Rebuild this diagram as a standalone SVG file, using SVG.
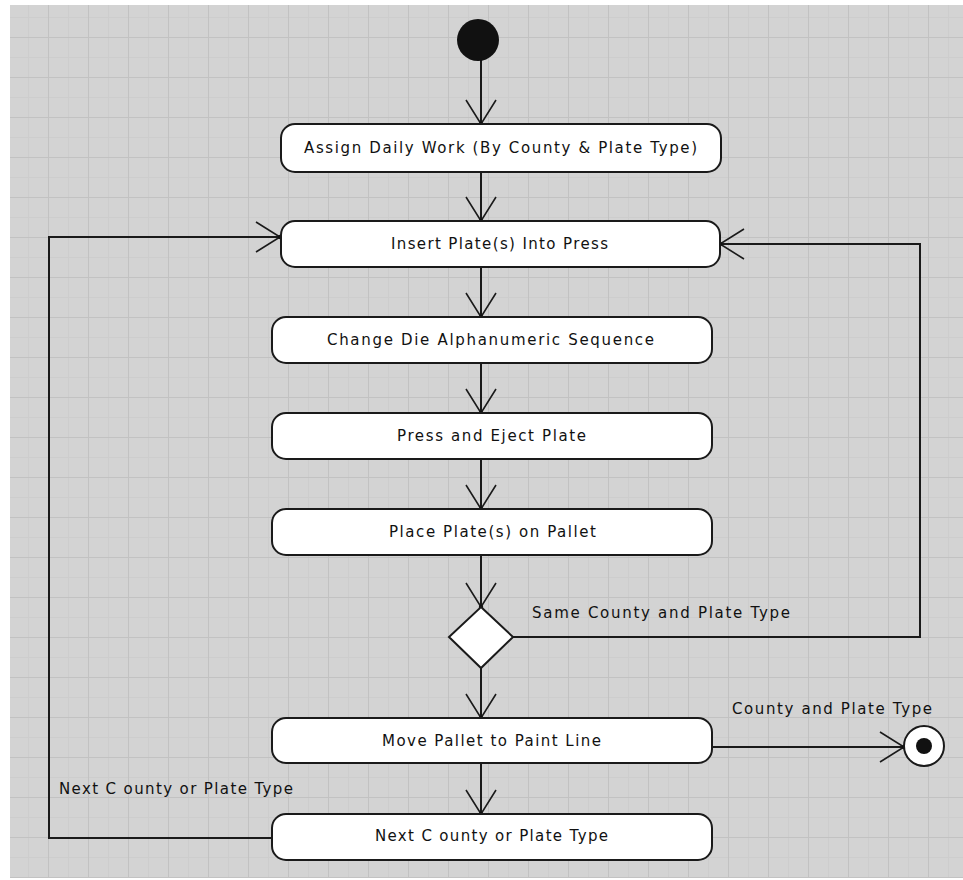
<svg xmlns="http://www.w3.org/2000/svg" width="963" height="880" viewBox="0 0 963 880">
<style>
.box{fill:#ffffff;stroke:#1a1a1a;stroke-width:2}
.lbl{font-family:"DejaVu Sans","Liberation Sans",Arial,sans-serif;font-size:15px;fill:#111111}
.c{text-anchor:middle}
.edge{fill:none;stroke:#1a1a1a;stroke-width:2}
</style>
<defs>
<pattern id="grid" patternUnits="userSpaceOnUse" x="8" y="37" width="40" height="40">
<rect width="40" height="40" fill="#d3d3d3"/>
<line x1="20.5" y1="0" x2="20.5" y2="40" stroke="#cdcdcd" stroke-width="1"/>
<line x1="0" y1="20.5" x2="40" y2="20.5" stroke="#cdcdcd" stroke-width="1"/>
<line x1="0.5" y1="0" x2="0.5" y2="40" stroke="#c2c2c2" stroke-width="1"/>
<line x1="0" y1="0.5" x2="40" y2="0.5" stroke="#c2c2c2" stroke-width="1"/>
</pattern>
<marker id="arr" markerUnits="userSpaceOnUse" viewBox="-26 -16 28 32" refX="0" refY="0" markerWidth="28" markerHeight="32" orient="auto">
<path d="M-24,-15 L0,0 L-24,15" fill="none" stroke="#1a1a1a" stroke-width="1.6"/>
<circle cx="0" cy="0" r="2.2" fill="#111"/>
</marker>
</defs>
<rect width="963" height="880" fill="#ffffff"/>
<rect x="10" y="5" width="953" height="873" fill="url(#grid)"/>

<g id="connectors">
<line class="edge" x1="481" y1="55" x2="481" y2="124" marker-end="url(#arr)"/>
<line class="edge" x1="481" y1="172" x2="481" y2="221" marker-end="url(#arr)"/>
<line class="edge" x1="481" y1="267" x2="481" y2="317" marker-end="url(#arr)"/>
<line class="edge" x1="481" y1="363" x2="481" y2="413" marker-end="url(#arr)"/>
<line class="edge" x1="481" y1="459" x2="481" y2="509" marker-end="url(#arr)"/>
<line class="edge" x1="481" y1="555" x2="481" y2="607" marker-end="url(#arr)"/>
<line class="edge" x1="481" y1="668" x2="481" y2="718" marker-end="url(#arr)"/>
<line class="edge" x1="481" y1="763" x2="481" y2="814" marker-end="url(#arr)"/>
<polyline class="edge" points="513,637 920,637 920,244 720,244" marker-end="url(#arr)"/>
<line class="edge" x1="712" y1="747" x2="904" y2="747" marker-end="url(#arr)"/>
<polyline class="edge" points="272,838 49,838 49,237 280,237" marker-end="url(#arr)"/>
<text class="lbl" x="532" y="618" textLength="258" lengthAdjust="spacing">Same County and Plate Type</text>
<text class="lbl" x="732" y="714" textLength="200" lengthAdjust="spacing">County and Plate Type</text>
<text class="lbl" x="59" y="794" textLength="234" lengthAdjust="spacing">Next C ounty or Plate Type</text>
</g>

<g id="start">
<circle cx="478" cy="40" r="21" fill="#111111"/>
</g>

<g id="assign">
<rect class="box" x="281" y="124" width="440" height="48" rx="14"/>
<text class="lbl c" x="500.5" y="153" textLength="393" lengthAdjust="spacing">Assign Daily Work (By County &amp; Plate Type)</text>
</g>

<g id="insert">
<rect class="box" x="281" y="221" width="439" height="46" rx="14"/>
<text class="lbl c" x="499.5" y="249" textLength="217" lengthAdjust="spacing">Insert Plate(s) Into Press</text>
</g>

<g id="change">
<rect class="box" x="272" y="317" width="440" height="46" rx="14"/>
<text class="lbl c" x="490.5" y="345" textLength="327" lengthAdjust="spacing">Change Die Alphanumeric Sequence</text>
</g>

<g id="press">
<rect class="box" x="272" y="413" width="440" height="46" rx="14"/>
<text class="lbl c" x="491.5" y="441" textLength="189" lengthAdjust="spacing">Press and Eject Plate</text>
</g>

<g id="place">
<rect class="box" x="272" y="509" width="440" height="46" rx="14"/>
<text class="lbl c" x="492.5" y="537" textLength="207" lengthAdjust="spacing">Place Plate(s) on Pallet</text>
</g>

<g id="decision">
<polygon points="481,607 513,637 481,668 449,637" fill="#ffffff" stroke="#1a1a1a" stroke-width="2"/>
</g>

<g id="move">
<rect class="box" x="272" y="718" width="440" height="45" rx="14"/>
<text class="lbl c" x="491.5" y="746" textLength="219" lengthAdjust="spacing">Move Pallet to Paint Line</text>
</g>

<g id="next">
<rect class="box" x="272" y="814" width="440" height="46" rx="14"/>
<text class="lbl c" x="491.5" y="841" textLength="233" lengthAdjust="spacing">Next C ounty or Plate Type</text>
</g>

<g id="end">
<circle cx="924" cy="746" r="20" fill="#ffffff" stroke="#1a1a1a" stroke-width="2"/>
<circle cx="924" cy="746" r="8" fill="#111111"/>
</g>
</svg>
